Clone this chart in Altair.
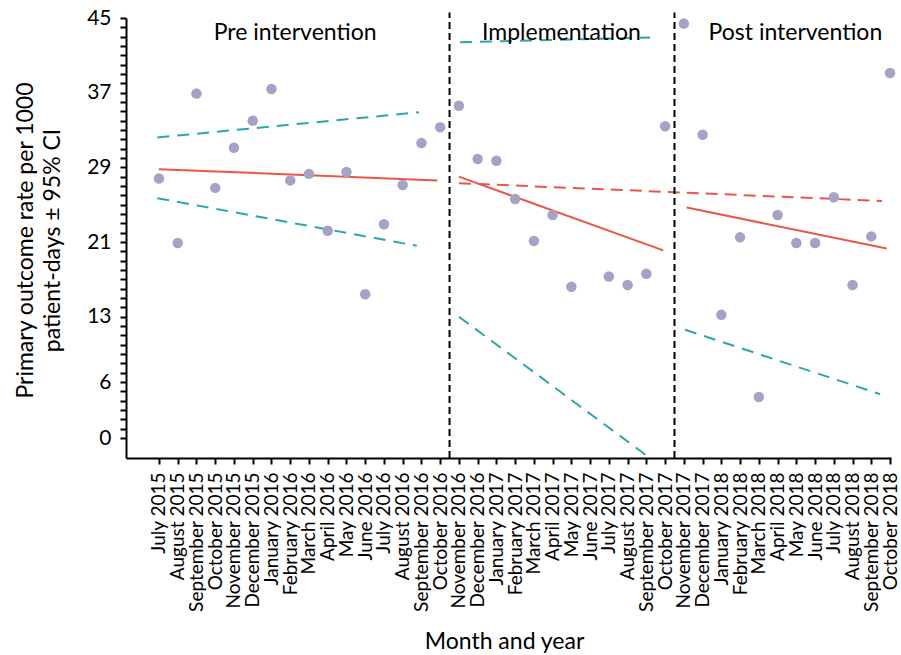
import altair as alt
import pandas as pd

# Month labels along the x axis (one per observation month)
months = [
    "July 2015", "August 2015", "September 2015", "October 2015", "November 2015",
    "December 2015", "January 2016", "February 2016", "March 2016", "April 2016",
    "May 2016", "June 2016", "July 2016", "August 2016", "September 2016",
    "October 2016", "November 2016", "December 2016", "January 2017", "February 2017",
    "March 2017", "April 2017", "May 2017", "June 2017", "July 2017",
    "August 2017", "September 2017", "October 2017", "November 2017", "December 2017",
    "January 2018", "February 2018", "March 2018", "April 2018", "May 2018",
    "June 2018", "July 2018", "August 2018", "September 2018", "October 2018",
]

# Monthly primary outcome rate per 1000 patient-days (None = no observation)
rates = [
    27.8, 20.9, 36.9, 26.8, 31.1, 34.0, 37.4, 27.6, 28.3, 22.2,
    28.5, 15.4, 22.9, 27.1, 31.6, 33.3,
    35.6, 29.9, 29.7, 25.6, 21.1, 23.9, 16.2, None, 17.3, 16.4, 17.6, 33.4,
    44.4, 32.5, 13.2, 21.5, 4.4, 23.9, 20.9, 20.9, 25.8, 16.4, 21.6, 39.1,
]

# Labelled y ticks
y_labels = [0, 6, 13, 21, 29, 37, 45]

# Fitted segmented-regression lines: (start month idx, start value, end month idx, end value)
fit_solid = [
    (0.0, 28.8, 14.85, 27.6),     # pre intervention trend
    (16.0, 28.0, 26.9, 20.1),     # implementation trend
    (28.15, 24.7, 38.82, 20.3),   # post intervention trend
]
fit_counterfactual = [
    (16.0, 27.3, 38.57, 25.4),    # pre trend projected forward
]
ci_bounds = [
    (-0.09, 32.2, 13.87, 34.9),   # pre upper
    (-0.09, 25.7, 13.75, 20.6),   # pre lower
    (16.06, 42.4, 26.2, 42.9),    # implementation upper
    (16.0, 13.0, 26.16, -2.1),    # implementation lower
    (28.06, 11.6, 38.47, 4.7),    # post lower
]

# Phase boundaries (between months) and phase captions
boundaries = [15.5, 27.5]
phase_names = ["Pre intervention", "Implementation", "Post intervention"]
phase_x = [7.26, 21.47, 33.95]
phase_y = [43.4, 43.4, 43.4]

RED = "#e8574a"
TEAL = "#2aa8a9"
DOT = "#a3a3c6"


def seg_frame(segs):
    rows = []
    for i, (x0, y0, x1, y1) in enumerate(segs):
        rows.append({"seg": i, "x": x0, "y": y0})
        rows.append({"seg": i, "x": x1, "y": y1})
    return pd.DataFrame(rows)


points = pd.DataFrame({"x": list(range(len(months))), "y": rates}).dropna()

x_scale = alt.Scale(domain=[-1.76, 39.05], nice=False, zero=False)
y_scale = alt.Scale(domain=[-2.14, 45], nice=False, zero=False)

month_array = "[" + ",".join("'" + m + "'" for m in months) + "]"
label_array = "[" + ",".join(str(v) for v in y_labels) + "]"

x_axis = alt.Axis(
    values=list(range(len(months))),
    labelExpr=month_array + "[datum.value]",
    labelAngle=270, labelAlign="right", labelBaseline="middle",
    labelFontSize=19, labelPadding=8, labelOverlap=False, labelFlush=False,
    labelColor="black",
    tickSize=6, tickWidth=2, tickColor="black",
    domainColor="black", domainWidth=2, grid=False,
    title="Month and year", titleFontSize=23, titleFontWeight="normal",
    titleColor="black", titleY=190, titleBaseline="alphabetic", titleX=378,
)
y_axis = alt.Axis(
    values=list(range(0, 46)),
    labelExpr="indexof(" + label_array + ", datum.value) >= 0 ? datum.value : ''",
    labelFontSize=21, labelPadding=9, labelColor="black", labelOverlap=False,
    labelFlush=False,
    tickSize=6, tickWidth=2, tickColor="black",
    domainColor="black", domainWidth=2, grid=False,
    title=["Primary outcome rate per 1000", "patient-days \u00b1 95% CI"],
    titleFontSize=23, titleFontWeight="normal", titleColor="black",
    titleX=-101, titleY=222, titleBaseline="middle", titleAlign="center",
    titleAngle=270, titleLineHeight=27,
)

# Shared position encodings so every layer carries the same axes
X = alt.X("x:Q", scale=x_scale, axis=x_axis)
Y = alt.Y("y:Q", scale=y_scale, axis=y_axis)

dots = alt.Chart(points).mark_circle(size=110, color=DOT, opacity=1).encode(x=X, y=Y)

solid = alt.Chart(seg_frame(fit_solid)).mark_line(color=RED, strokeWidth=2).encode(
    x=X, y=Y, detail="seg:N"
)
counter = alt.Chart(seg_frame(fit_counterfactual)).mark_line(
    color=RED, strokeWidth=2, strokeDash=[12, 7]
).encode(x=X, y=Y, detail="seg:N")
ci = alt.Chart(seg_frame(ci_bounds)).mark_line(
    color=TEAL, strokeWidth=2, strokeDash=[12, 8], clip=True
).encode(x=X, y=Y, detail="seg:N")

rules = alt.Chart(pd.DataFrame({"x": boundaries, "y": [-2.14, -2.14], "y2": [45.6, 45.6]})).mark_rule(
    color="black", strokeWidth=2, strokeDash=[7, 4]
).encode(x=X, y=Y, y2="y2:Q")

captions = alt.Chart(
    pd.DataFrame({"label": phase_names, "x": phase_x, "y": phase_y})
).mark_text(fontSize=23, color="black", align="center", baseline="middle").encode(
    x=X, y=Y, text="label:N"
)

chart = (
    alt.layer(ci, counter, solid, rules, dots, captions)
    .properties(
        width=765, height=440,
        autosize=alt.AutoSizeParams(type="none"),
        padding={"left": 126, "top": 18, "right": 10, "bottom": 197},
    )
    .configure(font="Lato")
    .configure_view(stroke=None)
)

chart.save("out.html", embed_options={"renderer": "svg", "actions": False})
